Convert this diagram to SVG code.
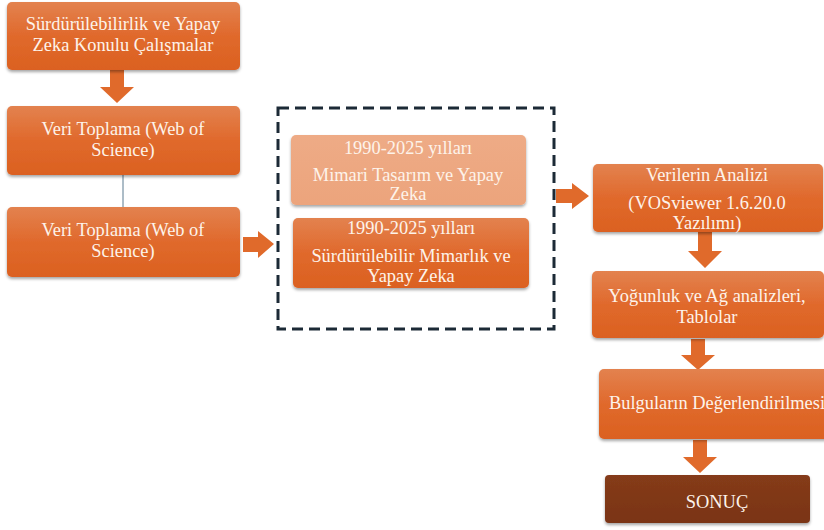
<svg xmlns="http://www.w3.org/2000/svg" width="824" height="530" viewBox="0 0 824 530">
  <defs>
    <linearGradient id="gOrange" x1="0" y1="0" x2="0" y2="1">
      <stop offset="0" stop-color="#e3824f"/>
      <stop offset="0.5" stop-color="#e0692c"/>
      <stop offset="1" stop-color="#db6120"/>
    </linearGradient>
    <linearGradient id="gLight" x1="0" y1="0" x2="0" y2="1">
      <stop offset="0" stop-color="#eeab86"/>
      <stop offset="1" stop-color="#eca47c"/>
    </linearGradient>
    <linearGradient id="gDark" x1="0" y1="0" x2="0" y2="1">
      <stop offset="0" stop-color="#853b1a"/>
      <stop offset="1" stop-color="#7a3415"/>
    </linearGradient>
    <filter id="shadow" x="-10%" y="-10%" width="120%" height="130%">
      <feDropShadow dx="0" dy="2" stdDeviation="1.5" flood-color="#000" flood-opacity="0.35"/>
    </filter>
  </defs>
  <style>
    .box { fill: url(#gOrange); filter: url(#shadow); }
    .light { fill: url(#gLight); filter: url(#shadow); }
    .dark { fill: url(#gDark); filter: url(#shadow); }
    .t { font-family: "Liberation Serif", "Times New Roman", serif; font-size: 18.4px; fill: #fdf3ea; text-anchor: middle; }
    .arrow { fill: #e06a2b; }
  </style>
  <rect width="824" height="530" fill="#ffffff"/>

  <!-- connectors -->
  <g id="connectors">
    <polygon class="arrow" points="110,70 124,70 124,87 134,87 117,103 100,87 110,87"/>
    <line x1="123" y1="175" x2="123" y2="207" stroke="#5a7a90" stroke-width="1"/>
    <polygon class="arrow" points="243,237 258,237 258,231 274,244 258,258 258,252 243,252"/>
    <polygon class="arrow" points="556,189 572,189 572,183 589,196 572,209 572,203 556,203"/>
    <polygon class="arrow" points="698,232 712,232 712,251 722,251 705,268 688,251 698,251"/>
    <polygon class="arrow" points="691,339 705,339 705,355 715,355 698,370 681,355 691,355"/>
    <polygon class="arrow" points="693,440 707,440 707,457 717,457 700,473 683,457 693,457"/>
  </g>

  <g id="n1">
    <rect class="box" x="7" y="2" width="233" height="68" rx="5"/>
    <text class="t" x="123" y="30">Sürdürülebilirlik ve Yapay</text>
    <text class="t" x="123" y="51">Zeka Konulu Çalışmalar</text>
  </g>

  <g id="n2">
    <rect class="box" x="7" y="106" width="233" height="69" rx="5"/>
    <text class="t" x="123" y="135">Veri Toplama (Web of</text>
    <text class="t" x="123" y="156">Science)</text>
  </g>

  <g id="n3">
    <rect class="box" x="7" y="207" width="233" height="70" rx="5"/>
    <text class="t" x="123" y="236">Veri Toplama (Web of</text>
    <text class="t" x="123" y="257">Science)</text>
  </g>

  <g id="group">
    <rect x="278" y="108" width="276" height="221" fill="none" stroke="#1c2a36" stroke-width="3" stroke-dasharray="11 6"/>
  </g>

  <g id="n4">
    <rect class="light" x="291" y="135" width="235" height="70" rx="5"/>
    <text class="t" x="408" y="154">1990-2025 yılları</text>
    <text class="t" x="408" y="181">Mimari Tasarım ve Yapay</text>
    <text class="t" x="408" y="200">Zeka</text>
  </g>

  <g id="n5">
    <rect class="box" x="293" y="218" width="236" height="70" rx="5"/>
    <text class="t" x="411" y="234">1990-2025 yılları</text>
    <text class="t" x="411" y="262">Sürdürülebilir Mimarlık ve</text>
    <text class="t" x="411" y="282">Yapay Zeka</text>
  </g>

  <g id="n6">
    <rect class="box" x="593" y="164" width="230" height="68" rx="5"/>
    <text class="t" x="707" y="181">Verilerin Analizi</text>
    <text class="t" x="707" y="209">(VOSviewer 1.6.20.0</text>
    <text class="t" x="707" y="229">Yazılımı)</text>
  </g>

  <g id="n7">
    <rect class="box" x="592" y="271" width="232" height="67" rx="5"/>
    <text class="t" x="707" y="302">Yoğunluk ve Ağ analizleri,</text>
    <text class="t" x="707" y="323">Tablolar</text>
  </g>

  <g id="n8">
    <rect class="box" x="599" y="369" width="240" height="70" rx="5"/>
    <text class="t" x="609" y="409" style="text-anchor:start">Bulguların Değerlendirilmesi</text>
  </g>

  <g id="n9">
    <rect class="dark" x="605" y="475" width="205" height="48" rx="4"/>
    <text class="t" x="717" y="508">SONUÇ</text>
  </g>
</svg>
